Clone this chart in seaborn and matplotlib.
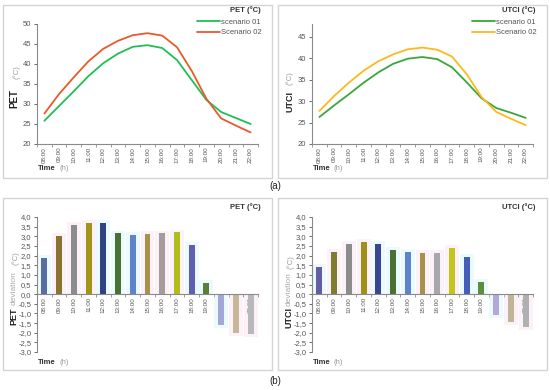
import numpy as np
import pandas as pd
import seaborn as sns
import matplotlib.pyplot as plt
from matplotlib.patches import Rectangle
from matplotlib.ticker import FixedLocator, FuncFormatter

times = ['08:00', '09:00', '10:00', '11:00', '12:00', '13:00', '14:00', '15:00',
         '16:00', '17:00', '18:00', '19:00', '20:00', '21:00', '22:00']

pet_s1 = [25.8, 29.5, 33.2, 37.0, 40.2, 42.6, 44.3, 44.7, 44.0, 41.0, 36.0, 31.0, 28.0, 26.5, 25.0]
pet_s2 = [27.6, 32.5, 36.7, 40.7, 43.8, 45.8, 47.2, 47.7, 47.1, 44.2, 38.3, 31.3, 26.4, 24.6, 22.9]
utci_s1 = [26.3, 29.0, 31.6, 34.3, 36.7, 38.7, 39.9, 40.3, 39.8, 37.9, 34.4, 30.7, 28.4, 27.3, 26.1]
utci_s2 = [27.7, 31.2, 34.3, 37.1, 39.3, 40.9, 42.1, 42.5, 42.0, 40.4, 36.3, 31.0, 27.5, 25.9, 24.4]

pet_dev = [1.9, 3.0, 3.6, 3.7, 3.7, 3.15, 3.05, 3.1, 3.15, 3.2, 2.55, 0.6, -1.6, -2.0, -2.05]
utci_dev = [1.4, 2.2, 2.6, 2.7, 2.6, 2.3, 2.2, 2.15, 2.15, 2.4, 1.95, 0.65, -1.1, -1.45, -1.7]

pet_bar_colors = ['#4a68b0', '#9a7a1e', '#8c8c8c', '#b8a800', '#1f3a93', '#4a7a2a', '#4a7de0',
                  '#b89a3a', '#a89a9a', '#c8d800', '#5050c0', '#5a8a2a', '#9aa0e0', '#d0b890', '#b8b8b8']
utci_bar_colors = ['#5a50b0', '#8a8a20', '#8c8c8c', '#b8a000', '#2a3aa0', '#4a7a2a', '#4a7de0',
                   '#b89a3a', '#a8a8a8', '#e0e000', '#3050d0', '#5a9a30', '#b0a0e0', '#c8b890', '#b0b0b0']
shade_colors = ['#bff8ff', '#ffd0f0', '#ffd0f0', '#ffd0f0', '#bff8ff', '#bff8ff', '#bff8ff',
                '#ffd0f0', '#ffd0f0', '#ffd0f0', '#bff8ff', '#bff8ff', '#bff8ff', '#ffd0f0', '#ffd0f0']

sns.set_style('white')
plt.rcParams['font.family'] = ['Liberation Sans', 'DejaVu Sans']

fig = plt.figure(figsize=(5.5, 3.9), dpi=100)
W, H = 550.0, 390.0


def fx(x):
    return x / W


def fy(y):
    return 1 - y / H


# panel frames
for (x0, y0, x1, y1) in [(3, 5, 272, 178), (278, 5, 547, 178), (3, 198, 272, 370), (278, 198, 547, 370)]:
    fig.patches.append(Rectangle((fx(x0), fy(y1)), fx(x1 - x0), (y1 - y0) / H,
                                 transform=fig.transFigure, fill=False,
                                 edgecolor='#d4d4d4', linewidth=1.0))


def style_axis(ax):
    for s in ['top', 'right']:
        ax.spines[s].set_visible(False)
    for s in ['left', 'bottom']:
        ax.spines[s].set_color('#8a8a8a')
        ax.spines[s].set_linewidth(0.8)
    ax.tick_params(axis='y', labelsize=5.5, colors='#555555', length=2, width=0.6,
                   direction='out', pad=2, left=True)
    ax.tick_params(axis='x', which='major', labelsize=4.5, colors='#555555', length=0,
                   pad=2, rotation=90, bottom=True)
    ax.tick_params(axis='x', which='minor', length=2, width=0.6, color='#8a8a8a', bottom=True)
    ax.xaxis.set_minor_locator(FixedLocator(np.arange(-0.5, 15, 1)))
    ax.set_xlim(-0.5, 14.5)
    ax.set_xlabel('')
    ax.set_ylabel('')
    ax.grid(False)


def line_panel(left, s1, s2, c1, c2, ylim, yticks, title):
    ax = fig.add_axes([fx(left), fy(144), fx(221), (144 - 24) / H])
    df = pd.DataFrame({'time': times * 2, 'value': s1 + s2,
                       'scenario': ['scenario 01'] * 15 + ['Scenario 02'] * 15})
    sns.lineplot(data=df, x='time', y='value', hue='scenario',
                 palette=[c1, c2], linewidth=1.3, ax=ax)
    style_axis(ax)
    ax.set_ylim(*ylim)
    ax.set_yticks(yticks)
    ax.legend(frameon=False, fontsize=5.5, loc='upper right',
              bbox_to_anchor=(fx(left + 228), fy(15)), bbox_transform=fig.transFigure,
              handlelength=3.0, handletextpad=0.1, labelspacing=0.35, borderpad=0)
    for t in ax.get_legend().get_texts():
        t.set_color('#555555')
    fig.text(fx(left + 224), fy(10), title, ha='right', va='center',
             fontsize=5.5, fontweight='bold', color='#333333')
    return ax


def bar_panel(left, vals, colors, title):
    ax = fig.add_axes([fx(left), fy(352), fx(221), (352 - 217) / H])
    shade = [v + 0.15 * np.sign(v) for v in vals]
    sns.barplot(x=times, y=shade, hue=times, palette=shade_colors, legend=False,
                width=0.95, alpha=0.35, linewidth=0, edgecolor='none', ax=ax)
    sns.barplot(x=times, y=vals, hue=times, palette=colors, legend=False,
                width=0.4, linewidth=0, ax=ax)
    style_axis(ax)
    ax.set_ylim(-3, 4)
    ax.set_yticks(np.arange(-3, 4.01, 0.5))
    ax.yaxis.set_major_formatter(FuncFormatter(lambda v, p: f'{v:.1f}'.replace('.', ',')))
    ax.spines['bottom'].set_position(('data', 0))
    fig.text(fx(left + 224), fy(207), title, ha='right', va='center',
             fontsize=5.5, fontweight='bold', color='#333333')
    return ax


line_panel(37, pet_s1, pet_s2, '#1fbf55', '#e85a2a', (20, 50), range(20, 51, 5), 'PET (°C)')
line_panel(312, utci_s1, utci_s2, '#3aa63a', '#ffb81c', (20, 48), range(20, 46, 5), 'UTCI (°C)')
bar_panel(37, pet_dev, pet_bar_colors, 'PET (°C)')
bar_panel(312, utci_dev, utci_bar_colors, 'UTCI (°C)')

# axis labels (bold name + grey unit)
lab = dict(rotation=90, ha='center', va='center', fontsize=7)
fig.text(fx(14), fy(98), 'PET', fontweight='bold', color='#222222', **lab)
fig.text(fx(17), fy(72), '(°C)', color='#999999', fontsize=5.5, rotation=90, ha='center', va='center')
fig.text(fx(290), fy(102), 'UTCI', fontweight='bold', color='#222222', rotation=90,
         ha='center', va='center', fontsize=6.5)
fig.text(fx(290), fy(78), '(°C)', color='#999999', fontsize=5.5, rotation=90, ha='center', va='center')

fig.text(fx(14), fy(316), 'PET', fontweight='bold', color='#222222', rotation=90,
         ha='center', va='center', fontsize=6.5)
fig.text(fx(14), fy(288), 'deviation', color='#aaaaaa', fontsize=6, rotation=90, ha='center', va='center')
fig.text(fx(16), fy(258), '(°C)', color='#999999', fontsize=5.5, rotation=90, ha='center', va='center')
fig.text(fx(289), fy(318), 'UTCI', fontweight='bold', color='#222222', rotation=90,
         ha='center', va='center', fontsize=6.5)
fig.text(fx(289), fy(289), 'deviation', color='#aaaaaa', fontsize=6, rotation=90, ha='center', va='center')
fig.text(fx(291), fy(262), '(°C)', color='#999999', fontsize=5.5, rotation=90, ha='center', va='center')

for x0, y0 in [(38, 169), (313, 169), (38, 363), (313, 363)]:
    fig.text(fx(x0), fy(y0), 'Time', fontweight='bold', color='#333333', fontsize=5.5,
             ha='left', va='center')
    fig.text(fx(x0 + 21), fy(y0), '(h)', color='#999999', fontsize=5.5, ha='left', va='center')

fig.text(0.5, fy(186), '(a)', ha='center', va='center', fontsize=7, color='#222222')
fig.text(0.5, fy(381), '(b)', ha='center', va='center', fontsize=7, color='#222222')

fig.savefig('out.png', dpi=100)
